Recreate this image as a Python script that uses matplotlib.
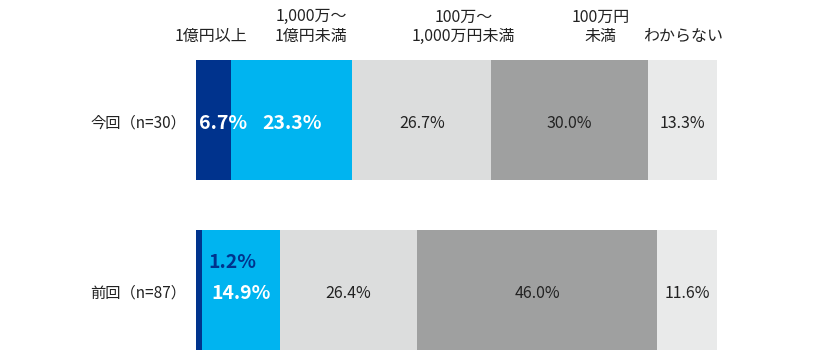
import matplotlib
matplotlib.use("Agg")
import matplotlib.pyplot as plt

plt.rcParams['font.family'] = ['Noto Sans CJK JP', 'DejaVu Sans']

rows = ["今回（n=30）", "前回（n=87）"]
categories = ["1億円以上", "1,000万～\n1億円未満", "100万～\n1,000万円未満", "100万円\n未満", "わからない"]
values = {
    "今回（n=30）": [6.7, 23.3, 26.7, 30.0, 13.3],
    "前回（n=87）": [1.2, 14.9, 26.4, 46.0, 11.6],
}
colors = ["#00338D", "#00B4F0", "#DCDDDD", "#9FA0A0", "#E9EAEA"]

fig = plt.figure(figsize=(8.2, 3.6), dpi=100)
ax = fig.add_axes([196/820, 0, 521/820, 310/360])
ax.set_xlim(0, 100)
ax.set_ylim((360-120)/170, (50-120)/170)
ax.axis("off")

bar_h = 120/170
dy = 0.018
for i, r in enumerate(rows):
    left = 0
    for j, v in enumerate(values[r]):
        ax.barh(i, v, left=left, height=bar_h, color=colors[j], linewidth=0)
        c = left + v/2
        txt = f"{v:.1f}%"
        if j == 0:
            if i == 0:
                ax.text(left + 0.6, i + dy, txt, ha="left", va="center", color="white",
                        fontsize=14, fontweight="bold")
            else:
                ax.text(left + 2.3, i - 0.16, txt, ha="left", va="center", color="#00338D",
                        fontsize=14, fontweight="bold")
        elif j == 1:
            ax.text(c, i + dy, txt, ha="center", va="center", color="white",
                    fontsize=14, fontweight="bold")
        else:
            ax.text(c, i + dy, txt, ha="center", va="center", color="#222222", fontsize=11.5)
        left += v
    ax.text(-1.9, i + dy, r, ha="right", va="center", color="#222222", fontsize=11)

header_x = [2.8, 22.1, 51.3, 77.6, 93.5]
for x, lab in zip(header_x, categories):
    fig.text((196 + x*5.21)/820, 1 - 45/360, lab, ha="center", va="bottom",
             fontsize=11.5, color="#222222", linespacing=1.2)

fig.savefig("out.png", dpi=100)
